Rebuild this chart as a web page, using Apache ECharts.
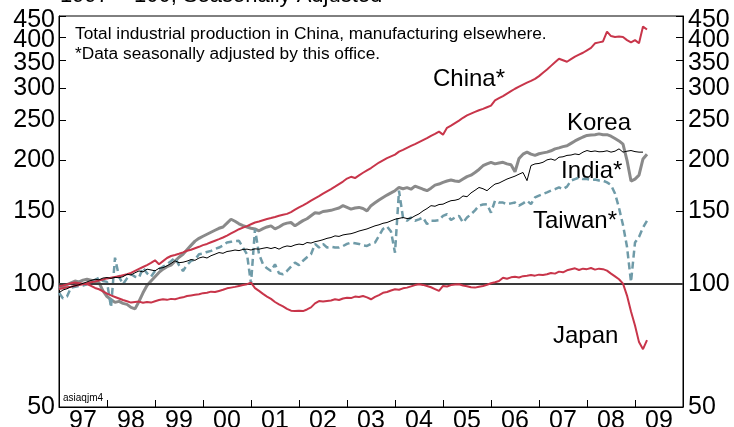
<!DOCTYPE html>
<html>
<head>
<meta charset="utf-8">
<script src="https://cdn.jsdelivr.net/npm/echarts@6/dist/echarts.min.js"></script>
<style>
html,body{margin:0;padding:0;background:#fff;}
#c{width:734px;height:427px;}
</style>
</head>
<body>
<div id="c"></div>
<script>
// Monthly data, Jan 1997 .. Apr 2009 (1997 = 100)
var startYear = 1997;
var yTicks = [50, 100, 150, 200, 250, 300, 350, 400, 449.999];
var yLabelsMain = [50, 100, 150, 200, 250, 300, 350, 449.999];
var yLabelsExtra = [400];
var xTickYears = [1998, 1999, 2000, 2001, 2002, 2003, 2004, 2005, 2006, 2007, 2008, 2009];
var xLabelYears = [1997, 1998, 1999, 2000, 2001, 2002, 2003, 2004, 2005, 2006, 2007, 2008, 2009];

var china = [97,97.5,98,98.3,98.8,99.2,99.6,100.2,100.8,101.2,101.8,102.4,
103,103.4,103.8,104.2,104.8,105.4,106.2,107.4,108.6,109.8,111,112.4,
114,111.5,113.5,115.5,116.8,117.5,118.3,119.2,120.3,121,122,123,
124.2,125,126.2,127.3,128.4,129.6,131,132.6,134.2,135.8,137,138.2,
139.6,141,141.8,142.8,143.8,144.6,145.5,146.5,147.3,148,149.5,151.5,
153.5,155.3,157.2,159.4,161.5,163.5,165.8,168,170.2,172.5,175,177.5,
180.5,182.3,181,183.8,186.5,189,191.5,194.5,197.5,200,202.5,204.5,
206.5,210,212,214.5,216.8,219,221.5,224,226.5,229.5,232,235,
231,240,243,246.5,250,254,257.5,260,262.5,265,267,269.5,
272,280,283.5,287,291,295,299,302.5,306,309.5,312.5,316,
321,327,333,340,347,354,351,348,353,358,362,366,
371,376,386,388,390,412,402,400,401,400,393,388,
393,386,424,417];

var korea = [97.5,98.5,99.5,100.5,101.5,101,102,102.5,102,101.2,100.6,96,
93,91.5,90,90.5,89.5,89,87.5,86.8,90.5,95,99,101.5,
104,106.5,108.5,110,111,113.5,116,118,121,124,127,129,
130.5,132,133.5,135,136.5,137.5,140.5,143.6,142,140,138.5,137.5,
136.5,136,134.6,136.2,137.5,138.4,136,137.5,139.5,140.5,141,138.4,
140.5,142.5,144,146.5,149,148.5,150,150.5,151,152,153,155,
153.5,152,153,153.5,152.5,150.5,155,157.5,160,162.3,164.5,166.5,
168.6,171.7,170.5,171.5,170,173,171.5,170,168.6,171,174,175,
176.7,178,179,178,177.5,180,182.5,184,186.8,190,194,196,
197.8,196,197,197.8,196,195,187.5,202,207,209.4,207,205.6,
207.5,208.5,209.4,211,213.3,214.5,216,217,220,223,225.5,228,
230,230.5,231,232,231,231,229,226,223,219,200,178,
180,184,201.5,207];

var india = [95,96.5,97.2,98.2,98.8,99.4,100.2,101,101.8,102.5,102.2,103.2,
103.5,103,103.6,103.4,104,105.4,105,106.3,107.4,106.8,108.5,108,
107.5,109,109.4,110.5,112,113.7,112.5,112.8,113.5,114.5,114,115.5,
116.2,115.5,117,118,119.1,118.6,119.8,120.2,120.8,120.4,121.2,121.4,
120.8,121.6,121.4,122,122.5,121.8,122.6,121.4,122.8,123.6,123.2,124.3,
124.9,124.5,126,125.6,126.6,127.2,128,129,129.6,130.8,130.4,131.5,
132,132.4,133.3,134.4,135.2,136,137.2,138.4,139.2,140.4,141,142.3,
143.6,144.3,145,144.2,144.5,146.4,148,150.5,152.5,155,154.5,156,
156.3,158,159.4,159.8,160.8,163.7,163,166.5,169,171.7,170.5,168.6,
172,175,176,178,180,181.5,183,185,186.8,178.4,194.2,196,
196.5,197.8,200.5,201.5,200,203.5,204,205.6,206,207.3,206.5,209.4,
211.3,210,210.8,209.8,210,211,209.4,210.5,213.3,209.4,210.5,211.3,
210,209.4,209.4,null];

var taiwan = [95,92,93,97.8,98.2,98.7,99,99.7,100.5,102,103.4,101.5,
101,87.5,115.7,104,99.7,103,105.4,104,103.4,109.4,106,104,
107.4,108.5,110,111.5,113.5,115.7,111,107.4,111,113.7,114.5,118,
118.5,119.5,120.2,121.5,122.5,124,126,126.5,127,127.2,122.5,118,
100,136,118,111.5,109,107.4,111.5,106,105.4,107.4,110,112.5,
111,113.7,116,118,125,122.5,125,122.5,123,122.5,122.5,123.5,
125,126,125.5,125,124,123.6,125,126,130.8,136,138,134,
119,168.6,145,142.4,145,142.4,143.5,145,139.8,142.4,142.4,142.8,
146.4,147.7,143,145,146.4,141,145,147.7,151,155,156,156.3,
149,159.4,157.7,157.7,156.3,157,157.7,155,157,159.4,156.3,162.3,
164,165.5,167,168.6,170,171.7,170,172.5,178.4,180,181.5,180,
180,179,179.5,178.5,178.4,176.7,174,166,153,139,123,101,
126,130,137,142.4];

var japan = [98.5,99,99.6,100.2,100.6,100.3,100,99.7,98.8,97.6,96.9,95.8,
94.6,93.6,92.8,92,91.2,90.6,89.9,90.2,90.4,89.8,90.2,89.9,
90.6,91.2,91.6,91.3,91.8,91.6,92.2,92.6,93.3,93.6,93.9,94.2,
94.8,95,95.6,95.4,96,96.6,97.4,97.8,98.2,98.7,99.2,99.7,
100.6,97.5,96,94.4,93,91.8,90.2,89,88,86.8,85.9,85.7,
85.9,85.7,86.5,87.5,89.5,90.7,90.4,90.7,91,91.6,91.2,92,
92.4,92.2,93,92.8,93.3,92.6,91.6,92.8,93.8,95,95.4,96.2,
96.9,96.6,97.4,97.8,98.5,99.2,99.7,99.3,98.7,98,97,96,
98.7,98.4,99.2,99.5,99.7,99,98.6,98,97.8,98.3,98.7,99.4,
100.2,100.8,101.5,103.4,102.8,103.6,103.9,103.5,104.3,104.6,105,104.6,
105.2,105,105.4,106.2,105.8,107,106.6,107.8,108.4,109,108,108.8,
108.5,109.2,108.2,108.8,108.5,107.6,105.8,104.2,102.5,100,93.5,85.5,
79,72,69.2,72.8];

function toPoints(arr) {
  var out = [];
  for (var i = 0; i < arr.length; i++) {
    out.push([startYear + i / 12, arr[i] == null ? '-' : arr[i]]);
  }
  return out;
}

var FONT = 'Liberation Sans, Arial, Helvetica, sans-serif';
var RED = '#c8354a';

var chart = echarts.init(document.getElementById('c'), null, {renderer: 'canvas'});

function yLabel(v) {
  var r = Math.round(v);
  if (r === 450) return '{a|450}';
  if (r === 400) return '{b|400}';
  if (r === 350) return '{c|350}';
  return String(r);
}

var rich = {
  a: {fontSize: 25, fontFamily: FONT, color: '#000', padding: [8, 0, 0, 0]},
  b: {fontSize: 25, fontFamily: FONT, color: '#000', padding: [6, 0, 0, 0]},
  c: {fontSize: 25, fontFamily: FONT, color: '#000', padding: [4, 0, 0, 0]}
};

function yAxisDef(pos, margin, labels, main) {
  return {
    type: 'log',
    logBase: 10,
    position: pos,
    min: 50,
    max: 450,
    axisLine: {show: main, lineStyle: {color: '#000', width: 1}},
    axisTick: {show: main, inside: true, length: 7, customValues: yTicks, lineStyle: {color: '#000', width: 1}},
    axisLabel: {show: true, hideOverlap: false, showMinLabel: true, showMaxLabel: true,
      customValues: labels, margin: margin, color: '#000', fontSize: 25, fontFamily: FONT,
      formatter: yLabel, rich: rich},
    splitLine: {show: false},
    minorTick: {show: false}
  };
}

var option = {
  animation: false,
  backgroundColor: '#fff',
  grid: {left: 59, right: 51, top: 16, bottom: 20, show: true, borderColor: '#000', borderWidth: 1,
    containLabel: false, outerBoundsMode: 'none'},
  xAxis: {
    type: 'value',
    min: 1997,
    max: 2010,
    axisLine: {show: true, onZero: false, lineStyle: {color: '#000', width: 1}},
    axisTick: {show: true, inside: true, length: 7, customValues: xTickYears, lineStyle: {color: '#000'}},
    axisLabel: {show: true, hideOverlap: false, showMinLabel: true, showMaxLabel: true,
      customValues: xLabelYears.map(function (y) { return y + 0.5; }), margin: 2,
      color: '#000', fontSize: 25, fontFamily: FONT,
      formatter: function (v) { return String(Math.floor(v)).slice(2); }},
    splitLine: {show: false}
  },
  yAxis: [
    yAxisDef('left', 4, yLabelsMain, true),
    yAxisDef('right', 5, yLabelsMain, true),
    yAxisDef('left', 4, yLabelsExtra, false),
    yAxisDef('right', 5, yLabelsExtra, false)
  ],
  series: [
    {name: 'China', type: 'line', data: toPoints(china), showSymbol: false, lineStyle: {color: RED, width: 2}, z: 5,
      markLine: {silent: true, symbol: 'none', label: {show: false}, lineStyle: {color: '#3a3a3a', width: 2, type: 'solid'},
        data: [{yAxis: 100}]}},
    {name: 'Korea', type: 'line', data: toPoints(korea), showSymbol: false, lineStyle: {color: '#8a8a8a', width: 3}, z: 3},
    {name: 'India', type: 'line', data: toPoints(india), showSymbol: false, lineStyle: {color: '#000', width: 1}, z: 6},
    {name: 'Taiwan', type: 'line', data: toPoints(taiwan), showSymbol: false, lineStyle: {color: '#6f9ba8', width: 2.5, type: [7, 4]}, z: 4},
    {name: 'Japan', type: 'line', data: toPoints(japan), showSymbol: false, lineStyle: {color: RED, width: 2}, z: 5}
  ],
  graphic: [
    {type: 'text', left: 60, top: -15, style: {text: '1997 = 100, Seasonally Adjusted', fontSize: 22, fontFamily: FONT, fill: '#000'}},
    {type: 'text', left: 75, top: 26, style: {text: 'Total industrial production in China, manufacturing elsewhere.', fontSize: 17.3, fontFamily: FONT, fill: '#000'}},
    {type: 'text', left: 75, top: 46, style: {text: '*Data seasonally adjusted by this office.', fontSize: 17.3, fontFamily: FONT, fill: '#000'}},
    {type: 'text', left: 433, top: 67, style: {text: 'China*', fontSize: 24, fontFamily: FONT, fill: '#000'}},
    {type: 'text', left: 567, top: 111, style: {text: 'Korea', fontSize: 24, fontFamily: FONT, fill: '#000'}},
    {type: 'text', left: 561, top: 159, style: {text: 'India*', fontSize: 24, fontFamily: FONT, fill: '#000'}},
    {type: 'text', left: 533, top: 209, style: {text: 'Taiwan*', fontSize: 24, fontFamily: FONT, fill: '#000'}},
    {type: 'text', left: 553, top: 324, style: {text: 'Japan', fontSize: 24, fontFamily: FONT, fill: '#000'}},
    {type: 'text', left: 63, top: 393, style: {text: 'asiaqjm4', fontSize: 10, fontFamily: FONT, fill: '#000'}}
  ]
};
chart.setOption(option);
</script>
</body>
</html>
